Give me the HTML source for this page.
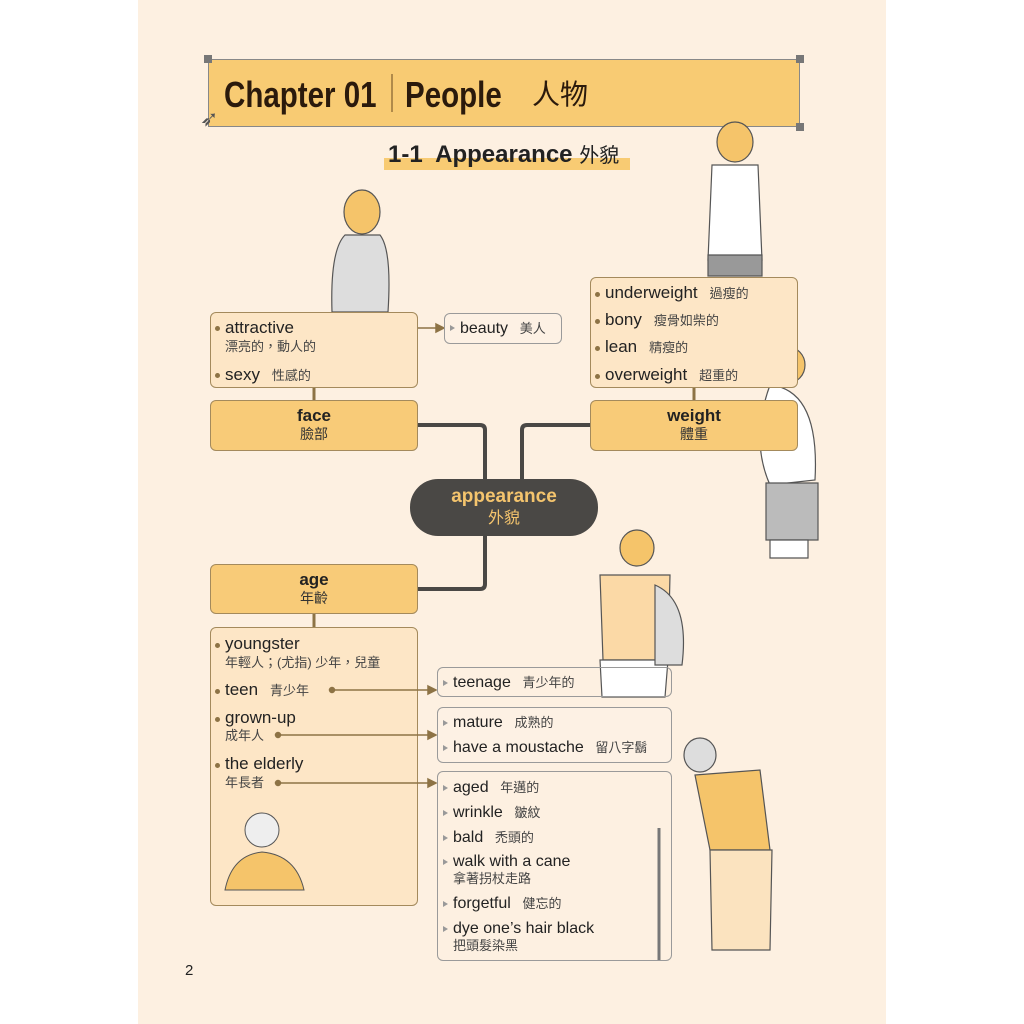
<!DOCTYPE html>
<html><head><meta charset="utf-8"><style>
*{margin:0;padding:0;box-sizing:border-box}
body{width:1024px;height:1024px;background:#fff;position:relative;overflow:hidden;font-family:"Liberation Sans","Noto Sans CJK TC",sans-serif;color:#222}
.pg{position:absolute;left:138px;top:0;width:748px;height:1024px;background:#fdf0e1}
.a{position:absolute}
.box{position:absolute;border:1.5px solid #a48a5c;border-radius:6px}
.lt{background:#fde6c6}
.dk{background:#f8cb78}
.wh{background:#fdf1e4;border-color:#9a9a9a}
.t{position:absolute;white-space:nowrap;font-size:17px;line-height:18px}
.c{font-size:13px;color:#444}
.d{position:absolute;width:5px;height:5px;border-radius:50%;background:#8d7345}
.tr{position:absolute;width:0;height:0;border-left:5px solid #999;border-top:3.5px solid transparent;border-bottom:3.5px solid transparent}
.h{position:absolute;text-align:center;font-weight:bold;font-size:17px;line-height:19px}
.h span{display:block;font-weight:normal;font-size:14px;color:#333}
</style></head><body>
<div class="pg"></div>
<!-- title -->
<div class="a" style="left:208px;top:59px;width:592px;height:68px;background:#f8cb73;border:1.5px solid #888"></div>
<div class="a" style="left:204px;top:55px;width:8px;height:8px;background:#777"></div>
<div class="a" style="left:796px;top:55px;width:8px;height:8px;background:#777"></div>
<div class="a" style="left:796px;top:123px;width:8px;height:8px;background:#777"></div>
<div class="t" style="left:224px;top:76px;font-size:36px;line-height:38px;font-weight:bold;color:#2b1a0c;transform:scaleX(0.82);transform-origin:left">Chapter 01</div>
<div class="a" style="left:391px;top:74px;width:2px;height:38px;background:#b08a4a"></div>
<div class="t" style="left:405px;top:76px;font-size:36px;line-height:38px;font-weight:bold;color:#2b1a0c;transform:scaleX(0.82);transform-origin:left">People</div>
<div class="t" style="left:532px;top:80px;font-size:28px;line-height:30px;color:#2b1a0c">人物</div>
<div class="t" style="left:200px;top:110px;font-size:22px;color:#555">➶</div>
<!-- subtitle -->
<div class="a" style="left:384px;top:158px;width:246px;height:12px;background:#f8cb73"></div>
<div class="t" style="left:388px;top:142px;font-size:24px;line-height:26px;font-weight:bold;color:#222">1-1&nbsp; Appearance <span style="font-weight:normal;font-size:20px">外貌</span></div>

<!-- connectors -->
<svg class="a" style="left:0;top:0" width="1024" height="1024">
<path d="M418 425 H480 Q485 425 485 430 V480" stroke="#4a4845" stroke-width="4" fill="none"/>
<path d="M590 425 H527 Q522 425 522 430 V480" stroke="#4a4845" stroke-width="4" fill="none"/>
<path d="M485 536 V584 Q485 589 480 589 H418" stroke="#4a4845" stroke-width="4" fill="none"/>
<path d="M314 388 V400 M694 388 V400 M314 614 V627" stroke="#8d7345" stroke-width="3"/>
<g stroke="#8d7345" stroke-width="1.5" fill="#8d7345">
<path d="M418 328 H436"/><path d="M436 324 L444 328 L436 332Z"/>
</g>
<!-- simple figures -->
<g stroke="#555" stroke-width="1.2" fill="#fff">
<ellipse cx="362" cy="212" rx="18" ry="22" fill="#f5c46a"/>
<path d="M332 312 Q330 250 345 235 L380 235 Q392 250 388 312Z" fill="#ddd"/>
<ellipse cx="735" cy="142" rx="18" ry="20" fill="#f5c46a"/>
<path d="M712 165 L758 165 L762 260 L708 260Z"/>
<path d="M708 255 H762 V276 H708Z" fill="#999"/>
<ellipse cx="788" cy="365" rx="17" ry="18" fill="#f5c46a"/>
<path d="M770 385 Q820 390 815 480 L770 485 Q750 440 770 385Z"/>
<path d="M766 483 H818 V540 H766Z" fill="#bbb"/>
<path d="M770 540 H808 V558 H770Z"/>
<ellipse cx="637" cy="548" rx="17" ry="18" fill="#f5c46a"/>
<path d="M600 575 L670 575 L668 660 L603 660Z" fill="#fbd9a6"/>
<path d="M600 660 H668 L665 697 H602Z"/>
<path d="M655 585 Q690 600 682 665 L655 665Z" fill="#ddd"/>
<ellipse cx="700" cy="755" rx="16" ry="17" fill="#ddd"/>
<path d="M695 775 L760 770 L770 850 L710 850Z" fill="#f5c46a"/>
<path d="M710 850 L772 850 L770 950 L712 950Z" fill="#fbe3bf"/>
<path d="M659 828 V960" stroke-width="3" stroke="#777"/>
</g>
</svg>

<!-- face -->
<div class="box lt" style="left:210px;top:312px;width:208px;height:76px"></div>
<div class="d" style="left:215px;top:326px"></div>
<div class="t" style="left:225px;top:319px">attractive</div>
<div class="t c" style="left:225px;top:338px">漂亮的，動人的</div>
<div class="d" style="left:215px;top:373px"></div>
<div class="t" style="left:225px;top:366px">sexy <span class="c">&nbsp; 性感的</span></div>
<div class="box dk" style="left:210px;top:400px;width:208px;height:51px"></div>
<div class="h" style="left:210px;top:406px;width:208px">face<span>臉部</span></div>
<div class="box wh" style="left:444px;top:313px;width:118px;height:31px"></div>
<div class="tr" style="left:450px;top:325px"></div>
<div class="t" style="left:460px;top:320px;font-size:16px">beauty <span class="c">&nbsp; 美人</span></div>

<!-- weight -->
<div class="box lt" style="left:590px;top:277px;width:208px;height:111px"></div>
<div class="d" style="left:595px;top:292px"></div><div class="t" style="left:605px;top:284px">underweight <span class="c">&nbsp; 過瘦的</span></div>
<div class="d" style="left:595px;top:319px"></div><div class="t" style="left:605px;top:311px">bony <span class="c">&nbsp; 瘦骨如柴的</span></div>
<div class="d" style="left:595px;top:346px"></div><div class="t" style="left:605px;top:338px">lean <span class="c">&nbsp; 精瘦的</span></div>
<div class="d" style="left:595px;top:374px"></div><div class="t" style="left:605px;top:366px">overweight <span class="c">&nbsp; 超重的</span></div>
<div class="box dk" style="left:590px;top:400px;width:208px;height:51px"></div>
<div class="h" style="left:590px;top:406px;width:208px">weight<span>體重</span></div>

<!-- center -->
<div class="a" style="left:410px;top:479px;width:188px;height:57px;background:#4a4845;border-radius:28px"></div>
<div class="h" style="left:410px;top:486px;width:188px;color:#f4c46d;font-size:19px;line-height:22px">appearance<span style="color:#f4c46d;font-size:16px">外貌</span></div>

<!-- age -->
<div class="box dk" style="left:210px;top:564px;width:208px;height:50px"></div>
<div class="h" style="left:210px;top:570px;width:208px">age<span>年齡</span></div>
<div class="box lt" style="left:210px;top:627px;width:208px;height:279px"></div>
<div class="d" style="left:215px;top:643px"></div><div class="t" style="left:225px;top:635px">youngster</div>
<div class="t c" style="left:225px;top:654px">年輕人；(尤指) 少年，兒童</div>
<div class="d" style="left:215px;top:689px"></div><div class="t" style="left:225px;top:681px">teen <span class="c">&nbsp; 青少年</span></div>
<div class="d" style="left:215px;top:717px"></div><div class="t" style="left:225px;top:709px">grown-up</div>
<div class="t c" style="left:225px;top:727px">成年人</div>
<div class="d" style="left:215px;top:763px"></div><div class="t" style="left:225px;top:755px">the elderly</div>
<div class="t c" style="left:225px;top:774px">年長者</div>
<svg class="a" style="left:0;top:0" width="1024" height="1024">
<g stroke="#8d7345" stroke-width="1.5" fill="#8d7345">
<circle cx="332" cy="690" r="2.5"/><path d="M332 690 H428"/><path d="M428 686 L436 690 L428 694Z"/>
<circle cx="278" cy="735" r="2.5"/><path d="M278 735 H428"/><path d="M428 731 L436 735 L428 739Z"/>
<circle cx="278" cy="783" r="2.5"/><path d="M278 783 H428"/><path d="M428 779 L436 783 L428 787Z"/>
</g>
<circle cx="262" cy="830" r="17" fill="#eee" stroke="#555"/><path d="M225 890 Q232 855 262 852 Q296 855 304 890Z" fill="#f5c46a" stroke="#555"/></svg>

<div class="box wh" style="left:437px;top:667px;width:235px;height:30px;background:transparent"></div>
<div class="tr" style="left:443px;top:680px"></div><div class="t" style="left:453px;top:674px;font-size:16px">teenage <span class="c">&nbsp; 青少年的</span></div>

<div class="box wh" style="left:437px;top:707px;width:235px;height:56px"></div>
<div class="tr" style="left:443px;top:720px"></div><div class="t" style="left:453px;top:714px;font-size:16px">mature <span class="c">&nbsp; 成熟的</span></div>
<div class="tr" style="left:443px;top:745px"></div><div class="t" style="left:453px;top:739px;font-size:16px">have a moustache <span class="c">&nbsp; 留八字鬍</span></div>

<div class="box wh" style="left:437px;top:771px;width:235px;height:190px;background:transparent"></div>
<div class="tr" style="left:443px;top:785px"></div><div class="t" style="left:453px;top:779px;font-size:16px">aged <span class="c">&nbsp; 年邁的</span></div>
<div class="tr" style="left:443px;top:810px"></div><div class="t" style="left:453px;top:804px;font-size:16px">wrinkle <span class="c">&nbsp; 皺紋</span></div>
<div class="tr" style="left:443px;top:835px"></div><div class="t" style="left:453px;top:829px;font-size:16px">bald <span class="c">&nbsp; 禿頭的</span></div>
<div class="tr" style="left:443px;top:859px"></div><div class="t" style="left:453px;top:853px;font-size:16px">walk with a cane</div>
<div class="t c" style="left:453px;top:870px">拿著拐杖走路</div>
<div class="tr" style="left:443px;top:901px"></div><div class="t" style="left:453px;top:895px;font-size:16px">forgetful <span class="c">&nbsp; 健忘的</span></div>
<div class="tr" style="left:443px;top:926px"></div><div class="t" style="left:453px;top:920px;font-size:16px">dye one’s hair black</div>
<div class="t c" style="left:453px;top:937px">把頭髮染黑</div>

<div class="t" style="left:185px;top:962px;font-size:15px">2</div>
</body></html>
